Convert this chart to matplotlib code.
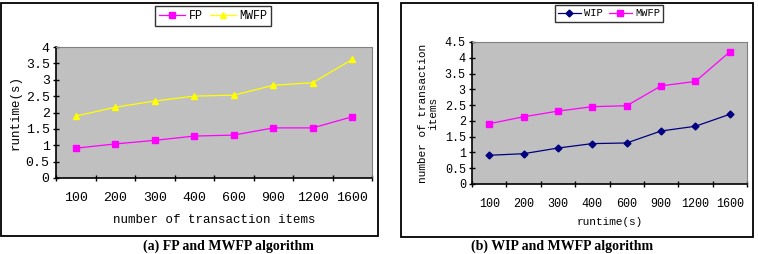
import matplotlib
matplotlib.use("Agg")
import matplotlib.pyplot as plt
from matplotlib.patches import Rectangle
import numpy as np

W, H = 758, 254

items = ["100", "200", "300", "400", "600", "900", "1200", "1600"]
fp_runtime = [0.91, 1.04, 1.15, 1.28, 1.31, 1.53, 1.53, 1.87]
mwfp_runtime_a = [1.89, 2.16, 2.35, 2.50, 2.53, 2.83, 2.91, 3.62]
wip_vals = [0.91, 0.96, 1.14, 1.28, 1.30, 1.68, 1.83, 2.21]
mwfp_vals_b = [1.91, 2.13, 2.31, 2.45, 2.48, 3.11, 3.25, 4.19]

plt.rcParams['font.family'] = ['Liberation Mono', 'DejaVu Sans Mono']

fig = plt.figure(figsize=(W / 100, H / 100), dpi=100)
fig.patch.set_facecolor("white")


def px_axes(x0, y0, x1, y1):
    # pixel box (top-left origin) -> figure axes
    return fig.add_axes([x0 / W, 1 - y1 / H, (x1 - x0) / W, (y1 - y0) / H])


def frame(x0, y0, x1, y1):
    fig.patches.append(Rectangle((x0 / W, 1 - y1 / H), (x1 - x0) / W, (y1 - y0) / H,
                                 transform=fig.transFigure, fill=False,
                                 edgecolor="black", linewidth=1.3))


def style_axes(ax, ymax, step, fs):
    ax.set_facecolor("#C0C0C0")
    ax.set_xlim(-0.5, len(items) - 0.5)
    ax.set_ylim(0, ymax)
    yt = np.arange(0, ymax + 0.01, step)
    ax.set_yticks(yt)
    ax.set_yticklabels(["%g" % v for v in yt])
    ax.set_xticks(range(len(items)))
    ax.set_xticklabels(items)
    ax.set_xticks(np.arange(-0.5, len(items)), minor=True)
    ax.tick_params(axis="x", which="major", length=0, pad=10, labelsize=fs)
    ax.tick_params(axis="x", which="minor", direction="inout", length=5, width=1)
    ax.tick_params(axis="y", direction="inout", length=5, width=1, pad=2, labelsize=fs)
    for s in ("top", "right"):
        ax.spines[s].set_color("#808080")
        ax.spines[s].set_linewidth(0.8)
    for s in ("left", "bottom"):
        ax.spines[s].set_color("black")
        ax.spines[s].set_linewidth(1.2)


# (a)
frame(1, 3, 378, 236)
ax1 = px_axes(56, 47, 372, 178)
l1, = ax1.plot(range(len(items)), fp_runtime, color="#FF00FF", marker="s",
               markersize=4, linewidth=0.9)
l2, = ax1.plot(range(len(items)), mwfp_runtime_a, color="#FFFF00", marker="^",
               markersize=5, linewidth=0.9)
style_axes(ax1, 4, 0.5, 9.5)
ax1.set_xlabel("number of transaction items", fontsize=9, labelpad=7)
ax1.set_ylabel("runtime(s)", fontsize=9, labelpad=3)
leg1 = fig.legend([l1, l2], ["FP", "MWFP"], loc="center",
                  bbox_to_anchor=(213 / W, 1 - 16 / H), ncol=2, fontsize=8.5,
                  frameon=True, fancybox=False, edgecolor="black",
                  handlelength=2.2, handletextpad=0.3, columnspacing=0.6,
                  borderpad=0.3)
leg1.get_frame().set_linewidth(1.0)

# (b)
frame(401, 3, 753, 237)
ax2 = px_axes(472, 42, 747, 184)
l3, = ax2.plot(range(len(items)), wip_vals, color="#000080", marker="D",
               markersize=3.5, linewidth=0.9)
l4, = ax2.plot(range(len(items)), mwfp_vals_b, color="#FF00FF", marker="s",
               markersize=4, linewidth=0.9)
style_axes(ax2, 4.5, 0.5, 8.5)
ax2.set_xlabel("runtime(s)", fontsize=8, labelpad=5)
ax2.set_ylabel("number of transaction\nitems", fontsize=8, labelpad=5,
               linespacing=1.0)
leg2 = fig.legend([l3, l4], ["WIP", "MWFP"], loc="center",
                  bbox_to_anchor=(609 / W, 1 - 13.5 / H), ncol=2, fontsize=7.5,
                  frameon=True, fancybox=False, edgecolor="black",
                  handlelength=2.2, handletextpad=0.3, columnspacing=0.6,
                  borderpad=0.3)
leg2.get_frame().set_linewidth(1.0)

# captions
fig.text(228 / W, 1 - 253 / H, "(a) FP and MWFP algorithm", ha="center", va="bottom",
         fontsize=10, fontweight="bold", family="Liberation Serif")
fig.text(562 / W, 1 - 253 / H, "(b) WIP and MWFP algorithm", ha="center", va="bottom",
         fontsize=10, fontweight="bold", family="Liberation Serif")

fig.savefig("out.png", dpi=100)
